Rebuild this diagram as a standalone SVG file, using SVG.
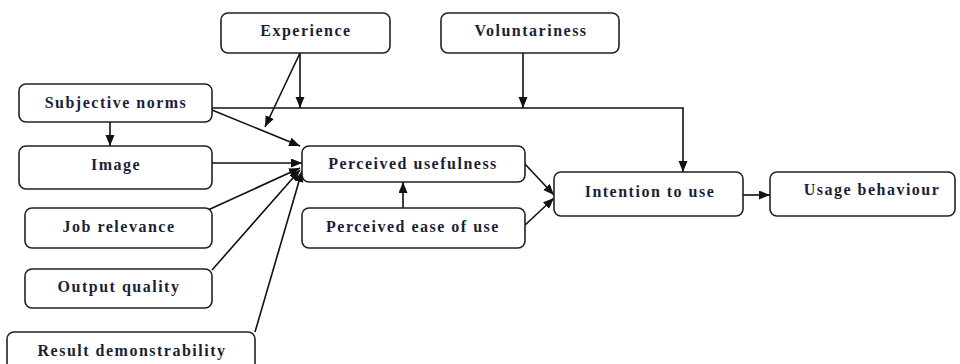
<svg xmlns="http://www.w3.org/2000/svg" width="960" height="364" viewBox="0 0 960 364">
<defs>
<style>
.box{fill:#fff;stroke:#222;stroke-width:1.6}
.lbl{font-family:"Liberation Serif","DejaVu Serif",serif;font-weight:bold;font-size:16px;fill:#1c1f3a;text-anchor:middle;letter-spacing:1.5px}
.c{fill:none;stroke:#111;stroke-width:1.6}
</style>
<marker id="ah" markerUnits="userSpaceOnUse" markerWidth="12" markerHeight="10" refX="11" refY="4.5" orient="auto">
<path d="M0,0 L11,4.5 L0,9 z" fill="#111"/>
</marker>
</defs>
<rect width="960" height="364" fill="#fff"/>
<g id="connectors">
<line class="c" x1="110" y1="122" x2="110" y2="146" marker-end="url(#ah)"/>
<polyline class="c" points="212,108 683,108 683,172" marker-end="url(#ah)"/>
<line class="c" x1="300" y1="53" x2="300" y2="108" marker-end="url(#ah)"/>
<line class="c" x1="300" y1="53" x2="265" y2="127" marker-end="url(#ah)"/>
<line class="c" x1="523" y1="53" x2="523" y2="108" marker-end="url(#ah)"/>
<line class="c" x1="212" y1="110" x2="300" y2="146" marker-end="url(#ah)"/>
<line class="c" x1="212" y1="163" x2="302" y2="163" marker-end="url(#ah)"/>
<line class="c" x1="208" y1="210" x2="300" y2="168" marker-end="url(#ah)"/>
<line class="c" x1="212" y1="270" x2="300" y2="170" marker-end="url(#ah)"/>
<line class="c" x1="255" y1="332" x2="302" y2="171" marker-end="url(#ah)"/>
<line class="c" x1="403" y1="208" x2="403" y2="182" marker-end="url(#ah)"/>
<line class="c" x1="524" y1="163" x2="554" y2="195" marker-end="url(#ah)"/>
<line class="c" x1="524" y1="226" x2="554" y2="198" marker-end="url(#ah)"/>
<line class="c" x1="743" y1="195" x2="770" y2="195" marker-end="url(#ah)"/>
</g>
<g id="experience"><rect class="box" x="221" y="13" width="169" height="40" rx="7"/><text class="lbl" x="306" y="36">Experience</text></g>
<g id="voluntariness"><rect class="box" x="441" y="13" width="178" height="40" rx="7"/><text class="lbl" x="531" y="36">Voluntariness</text></g>
<g id="subjective-norms"><rect class="box" x="19" y="84" width="193" height="38" rx="7"/><text class="lbl" x="116" y="108">Subjective norms</text></g>
<g id="image"><rect class="box" x="19" y="146" width="193" height="43" rx="7"/><text class="lbl" x="116" y="170">Image</text></g>
<g id="job-relevance"><rect class="box" x="25" y="208" width="187" height="40" rx="7"/><text class="lbl" x="119" y="232">Job relevance</text></g>
<g id="output-quality"><rect class="box" x="25" y="269" width="187" height="39" rx="7"/><text class="lbl" x="119" y="292">Output quality</text></g>
<g id="result-demonstrability"><rect class="box" x="7" y="332" width="248" height="40" rx="7"/><text class="lbl" x="132" y="356">Result demonstrability</text></g>
<g id="perceived-usefulness"><rect class="box" x="302" y="146" width="223" height="36" rx="7"/><text class="lbl" x="413" y="169">Perceived usefulness</text></g>
<g id="perceived-ease-of-use"><rect class="box" x="302" y="208" width="223" height="40" rx="7"/><text class="lbl" x="413" y="232">Perceived ease of use</text></g>
<g id="intention-to-use"><rect class="box" x="554" y="172" width="189" height="44" rx="7"/><text class="lbl" x="650" y="197">Intention to use</text></g>
<g id="usage-behaviour"><rect class="box" x="770" y="172" width="185" height="44" rx="7"/><text class="lbl" x="872" y="195">Usage behaviour</text></g>
</svg>
